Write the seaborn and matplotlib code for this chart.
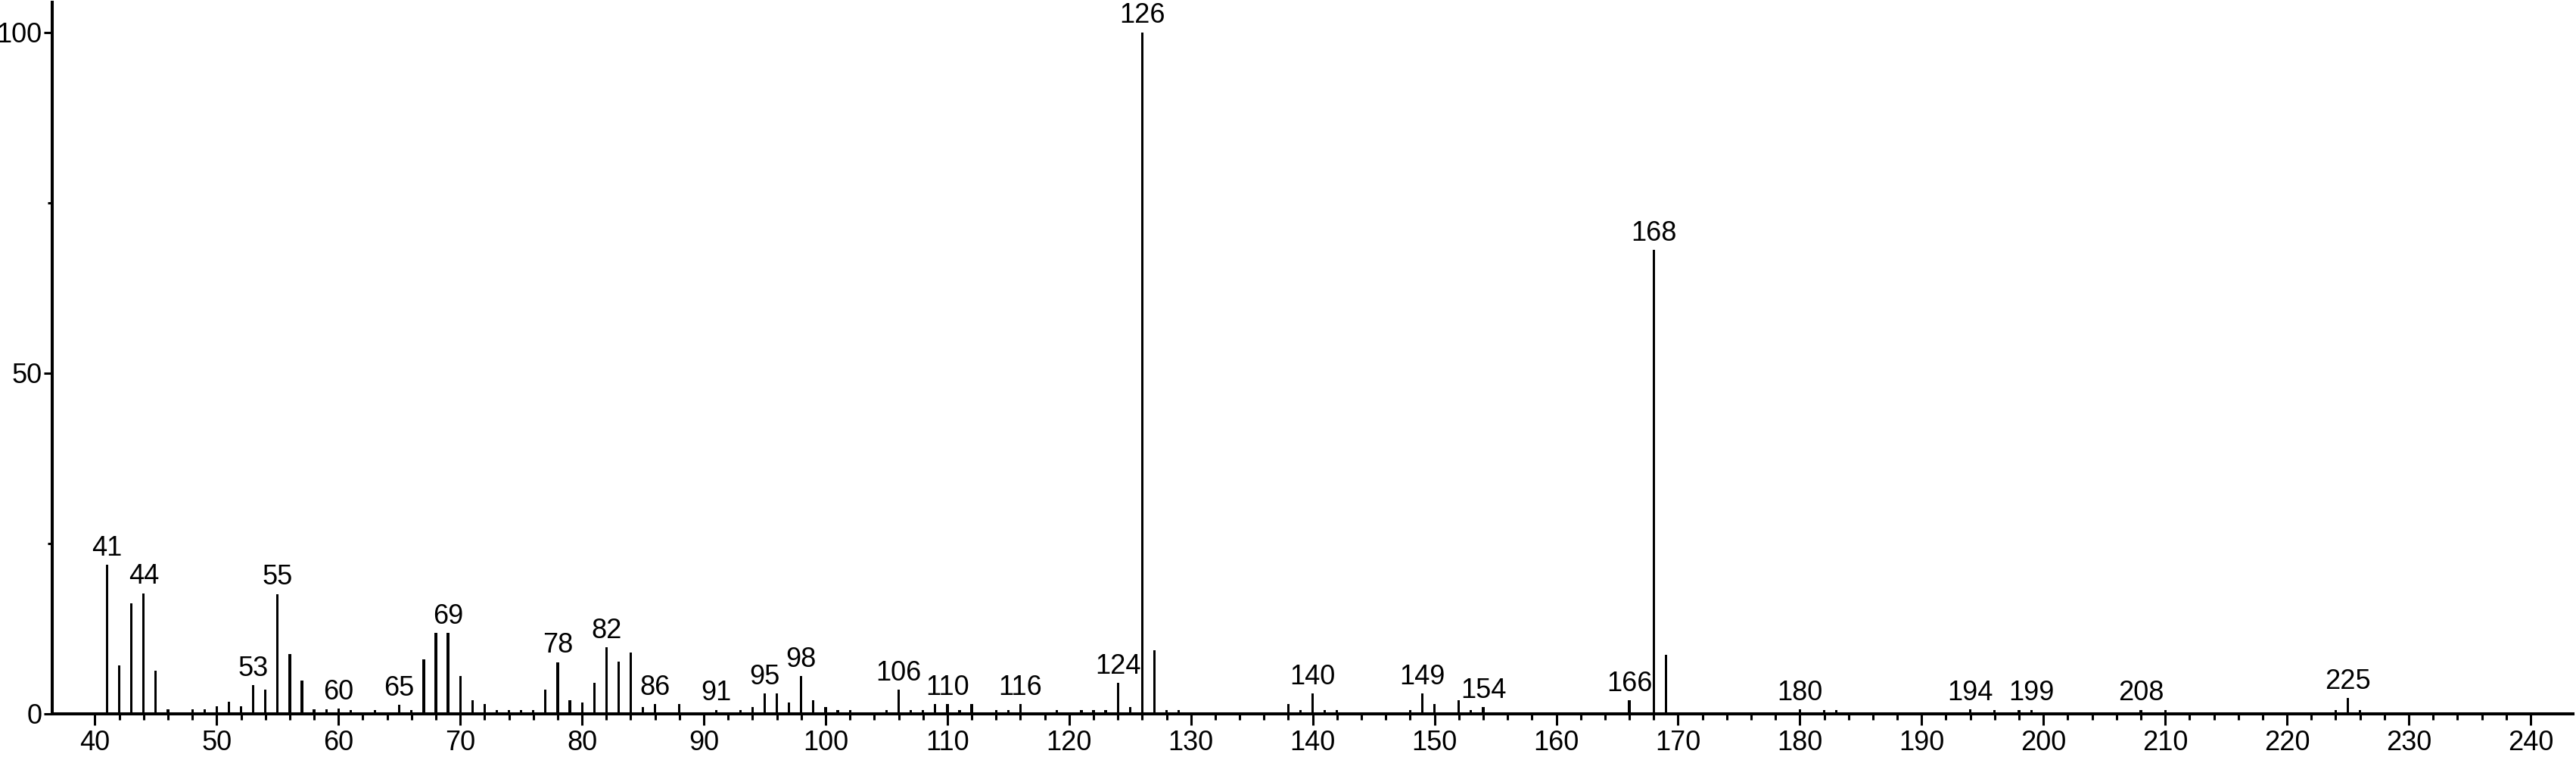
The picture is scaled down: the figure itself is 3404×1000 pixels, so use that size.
import matplotlib
matplotlib.use('Agg')
import matplotlib.pyplot as plt
import pandas as pd
import seaborn as sns

# m/z values and relative intensities
mz = [41, 42, 43, 44, 45, 46, 48, 49, 50, 51, 52, 53, 54, 55, 56, 57, 58, 59, 60, 61,
      63, 65, 66, 67, 68, 69, 70, 71, 72, 73, 74, 75, 76, 77, 78, 79, 80, 81, 82, 83,
      84, 85, 86, 88, 91, 93, 94, 95, 96, 97, 98, 99, 100, 101, 102, 105, 106, 107, 108, 109,
      110, 111, 112, 114, 115, 116, 119, 121, 122, 123, 124, 125, 126, 127, 128, 129, 138, 139, 140, 141,
      142, 148, 149, 150, 152, 153, 154, 166, 168, 169, 180, 182, 183, 194, 196, 198, 199, 208, 210, 224,
      225, 226]
intensity = [21.9, 7.1, 16.2, 17.7, 6.3, 0.7, 0.7, 0.7, 1.1, 1.8, 1.1, 4.2, 3.5, 17.6, 8.8, 4.9, 0.7, 0.7, 0.8, 0.6,
             0.6, 1.3, 0.6, 8.0, 11.9, 11.9, 5.5, 2.0, 1.4, 0.6, 0.6, 0.6, 0.6, 3.5, 7.6, 2.0, 1.7, 4.5, 9.8, 7.7,
             9.0, 1.0, 1.4, 1.4, 0.6, 0.6, 1.0, 3.0, 3.0, 1.7, 5.5, 2.0, 1.0, 0.6, 0.5, 0.6, 3.5, 0.6, 0.6, 1.4,
             1.4, 0.6, 1.4, 0.5, 0.6, 1.4, 0.6, 0.6, 0.5, 0.6, 4.5, 1.0, 100.0, 9.3, 0.6, 0.6, 1.4, 0.6, 3.0, 0.6,
             0.5, 0.6, 3.0, 1.4, 2.0, 0.6, 1.0, 2.0, 68.1, 8.7, 0.7, 0.6, 0.6, 0.7, 0.5, 0.6, 0.6, 0.6, 0.5, 0.6,
             2.3, 0.6]
labelled = [41, 44, 53, 55, 60, 65, 69, 78, 82, 86, 91, 95, 98, 106, 110, 116, 124, 126,
            140, 149, 154, 166, 168, 180, 194, 199, 208, 225]

x_major = [40, 50, 60, 70, 80, 90, 100, 110, 120, 130, 140, 150, 160, 170, 180, 190, 200,
           210, 220, 230, 240]
y_major = [0, 50, 100]
y_minor = [25, 75]

df = pd.DataFrame({'mz': mz, 'intensity': intensity})

sns.set_theme(style='ticks')
plt.rcParams['font.family'] = ['Liberation Sans', 'DejaVu Sans']

fig = plt.figure(figsize=(34.04, 10), dpi=100)
ax = fig.add_axes([0.0203, 0.057, 0.9786, 0.94])

sns.histplot(data=df, x='mz', weights='intensity', discrete=True, shrink=0.2,
             color='black', alpha=1, linewidth=0, ax=ax)

for m in labelled:
    h = intensity[mz.index(m)]
    ax.annotate(str(m), (m, h), xytext=(0, 3), textcoords='offset points',
                ha='center', va='bottom', fontsize=26, color='black')

ax.set_xlim(36.5, 243.5)
ax.set_ylim(0, 104.4)
ax.set_xlabel('')
ax.set_ylabel('')

ax.set_xticks(x_major)
ax.set_xticks([v for v in range(42, 240, 2) if v % 10 != 0], minor=True)
ax.set_yticks(y_major)
ax.set_yticks(y_minor, minor=True)

ax.tick_params(axis='x', which='major', length=10.8, width=2.2, labelsize=26, pad=4, colors='black')
ax.tick_params(axis='x', which='minor', length=5.8, width=2.2, colors='black')
ax.tick_params(axis='y', which='major', length=8, width=2.2, labelsize=26, pad=2, colors='black')
ax.tick_params(axis='y', which='minor', length=4.3, width=2.2, colors='black')

sns.despine(ax=ax)
for side in ['left', 'bottom']:
    ax.spines[side].set_linewidth(2.9)
    ax.spines[side].set_color('black')

fig.savefig('out.png', dpi=100, facecolor='white')
